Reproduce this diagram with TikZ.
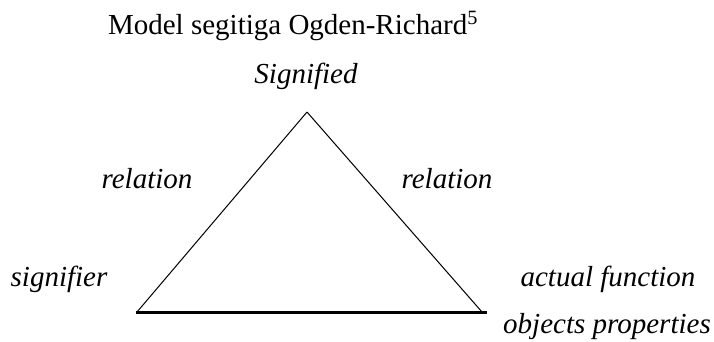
\documentclass[tikz,border=0pt]{standalone}
\usepackage{fontspec}
\setmainfont{Liberation Serif}
\begin{document}
\begin{tikzpicture}[x=1pt,y=-1pt,
  lbl/.style={font=\fontsize{29}{33}\selectfont\itshape, inner sep=0pt, anchor=base},
  ttl/.style={font=\fontsize{29}{33}\selectfont, inner sep=0pt, anchor=base},
  side/.style={line width=1pt},
  basel/.style={line width=3pt}]
\useasboundingbox (0,0) rectangle (714,341);
\node[ttl] (title) at (293,34) {Model segitiga Ogden-Richard\textsuperscript{5}};
\node[lbl] (sig) at (306,83) {Signified};
\node[lbl] (rl) at (147,188) {relation};
\node[lbl] (rr) at (447,188) {relation};
\node[lbl] (sfr) at (59,286) {signifier};
\node[lbl] (af) at (608,286) {actual function};
\node[lbl] (op) at (607,333) {objects properties};
\coordinate (A) at (307,112);
\coordinate (L) at (137,312);
\coordinate (R) at (482,312);
\coordinate (L0) at (136,312);
\coordinate (R0) at (487,312);
\draw[side] (A) -- (L);
\draw[side] (A) -- (R);
\draw[basel] (L0) -- (R0);
\end{tikzpicture}
\end{document}
